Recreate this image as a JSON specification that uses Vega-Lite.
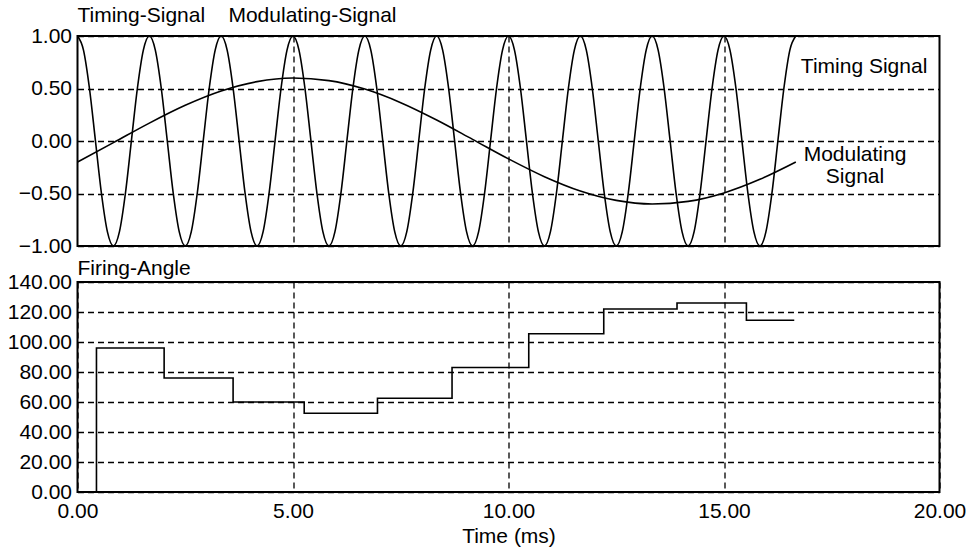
{
  "$schema": "https://vega.github.io/schema/vega-lite/v6.json",
  "background": "white",
  "padding": {"left": 5.5, "top": 4, "right": 5, "bottom": 5},
  "spacing": 0,
  "config": {
    "font": "Liberation Sans",
    "view": {"stroke": "black", "strokeWidth": 2},
    "axis": {
      "labelFont": "Liberation Sans",
      "labelFontSize": 21,
      "labelColor": "black",
      "labelPadding": 6,
      "labelFlush": false,
      "labelOverlap": false,
      "ticks": false,
      "domain": false,
      "grid": true,
      "gridColor": "black",
      "gridOpacity": 1,
      "gridWidth": 1.3,
      "gridDash": [6, 4],
      "titleFont": "Liberation Sans",
      "titleFontSize": 21,
      "titleFontWeight": "normal",
      "titleColor": "black"
    },
    "title": {"font": "Liberation Sans", "fontSize": 21, "fontWeight": "normal", "color": "black", "anchor": "start", "frame": "group"}
  },
  "datasets": {
    "timing": [
      {"t":0,"v":1},{"t":0.1389,"v":0.866},{"t":0.2778,"v":0.5},{"t":0.4167,"v":0},{"t":0.5556,"v":-0.5},{"t":0.6944,"v":-0.866},{"t":0.8333,"v":-1},{"t":0.9722,"v":-0.866},{"t":1.1111,"v":-0.5},{"t":1.25,"v":0},{"t":1.3889,"v":0.5},{"t":1.5278,"v":0.866},
      {"t":1.6667,"v":1},{"t":1.8056,"v":0.866},{"t":1.9444,"v":0.5},{"t":2.0833,"v":0},{"t":2.2222,"v":-0.5},{"t":2.3611,"v":-0.866},{"t":2.5,"v":-1},{"t":2.6389,"v":-0.866},{"t":2.7778,"v":-0.5},{"t":2.9167,"v":0},{"t":3.0556,"v":0.5},{"t":3.1944,"v":0.866},
      {"t":3.3333,"v":1},{"t":3.4722,"v":0.866},{"t":3.6111,"v":0.5},{"t":3.75,"v":0},{"t":3.8889,"v":-0.5},{"t":4.0278,"v":-0.866},{"t":4.1667,"v":-1},{"t":4.3056,"v":-0.866},{"t":4.4444,"v":-0.5},{"t":4.5833,"v":0},{"t":4.7222,"v":0.5},{"t":4.8611,"v":0.866},
      {"t":5,"v":1},{"t":5.1389,"v":0.866},{"t":5.2778,"v":0.5},{"t":5.4167,"v":0},{"t":5.5556,"v":-0.5},{"t":5.6944,"v":-0.866},{"t":5.8333,"v":-1},{"t":5.9722,"v":-0.866},{"t":6.1111,"v":-0.5},{"t":6.25,"v":0},{"t":6.3889,"v":0.5},{"t":6.5278,"v":0.866},
      {"t":6.6667,"v":1},{"t":6.8056,"v":0.866},{"t":6.9444,"v":0.5},{"t":7.0833,"v":0},{"t":7.2222,"v":-0.5},{"t":7.3611,"v":-0.866},{"t":7.5,"v":-1},{"t":7.6389,"v":-0.866},{"t":7.7778,"v":-0.5},{"t":7.9167,"v":0},{"t":8.0556,"v":0.5},{"t":8.1944,"v":0.866},
      {"t":8.3333,"v":1},{"t":8.4722,"v":0.866},{"t":8.6111,"v":0.5},{"t":8.75,"v":0},{"t":8.8889,"v":-0.5},{"t":9.0278,"v":-0.866},{"t":9.1667,"v":-1},{"t":9.3056,"v":-0.866},{"t":9.4444,"v":-0.5},{"t":9.5833,"v":0},{"t":9.7222,"v":0.5},{"t":9.8611,"v":0.866},
      {"t":10,"v":1},{"t":10.1389,"v":0.866},{"t":10.2778,"v":0.5},{"t":10.4167,"v":0},{"t":10.5556,"v":-0.5},{"t":10.6944,"v":-0.866},{"t":10.8333,"v":-1},{"t":10.9722,"v":-0.866},{"t":11.1111,"v":-0.5},{"t":11.25,"v":0},{"t":11.3889,"v":0.5},{"t":11.5278,"v":0.866},
      {"t":11.6667,"v":1},{"t":11.8056,"v":0.866},{"t":11.9444,"v":0.5},{"t":12.0833,"v":0},{"t":12.2222,"v":-0.5},{"t":12.3611,"v":-0.866},{"t":12.5,"v":-1},{"t":12.6389,"v":-0.866},{"t":12.7778,"v":-0.5},{"t":12.9167,"v":0},{"t":13.0556,"v":0.5},{"t":13.1944,"v":0.866},
      {"t":13.3333,"v":1},{"t":13.4722,"v":0.866},{"t":13.6111,"v":0.5},{"t":13.75,"v":0},{"t":13.8889,"v":-0.5},{"t":14.0278,"v":-0.866},{"t":14.1667,"v":-1},{"t":14.3056,"v":-0.866},{"t":14.4444,"v":-0.5},{"t":14.5833,"v":0},{"t":14.7222,"v":0.5},{"t":14.8611,"v":0.866},
      {"t":15,"v":1},{"t":15.1389,"v":0.866},{"t":15.2778,"v":0.5},{"t":15.4167,"v":0},{"t":15.5556,"v":-0.5},{"t":15.6944,"v":-0.866},{"t":15.8333,"v":-1},{"t":15.9722,"v":-0.866},{"t":16.1111,"v":-0.5},{"t":16.25,"v":0},{"t":16.3889,"v":0.5},{"t":16.5278,"v":0.866},
      {"t":16.6667,"v":1}
    ],
    "modulating": [
      {"t":0,"v":-0.2003},{"t":0.8333,"v":-0.0157},{"t":1.6667,"v":0.1704},{"t":2.5,"v":0.3398},{"t":3.3333,"v":0.476},{"t":4.1667,"v":0.5656},{"t":5,"v":0.5998},{"t":5.8333,"v":0.5753},{"t":6.6667,"v":0.4945},{"t":7.5,"v":0.3653},{"t":8.3333,"v":0.2003},{"t":9.1667,"v":0.0157},{"t":10,"v":-0.1704},{"t":10.8333,"v":-0.3398},{"t":11.6667,"v":-0.476},{"t":12.5,"v":-0.5656},{"t":13.3333,"v":-0.5998},{"t":14.1667,"v":-0.5753},{"t":15,"v":-0.4945},{"t":15.8333,"v":-0.3653},{"t":16.6667,"v":-0.2003}
    ],
    "labels": [
      {"t":18.25,"v":0.65,"label":"Timing Signal"},
      {"t":18.04,"v":-0.195,"label":"Modulating"},
      {"t":18.04,"v":-0.4,"label":"Signal"}
    ],
    "firing": [
      {"i":0,"t":0.44,"v":0},{"i":1,"t":0.44,"v":96},{"i":2,"t":2.01,"v":76},{"i":3,"t":3.61,"v":60},{"i":4,"t":5.26,"v":52.5},{"i":5,"t":6.96,"v":62.5},{"i":6,"t":8.69,"v":83},{"i":7,"t":10.47,"v":105.5},{"i":8,"t":12.21,"v":122},{"i":9,"t":13.91,"v":126},{"i":10,"t":15.52,"v":114.5},{"i":11,"t":16.63,"v":114.5}
    ]
  },
  "vconcat": [
    {
      "width": 862,
      "height": 210,
      "title": {"text": "Timing-Signal\u00a0\u00a0\u00a0\u00a0Modulating-Signal", "offset": -1},
      "encoding": {
        "x": {"field": "t", "type": "quantitative", "scale": {"domain": [0, 20], "nice": false},
              "axis": {"values": [5, 10, 15], "labels": false, "title": null}},
        "y": {"field": "v", "type": "quantitative", "scale": {"domain": [-1, 1], "nice": false},
              "axis": {"values": [-1, -0.5, 0, 0.5, 1], "format": ".2f", "title": null}}
      },
      "layer": [
        {"data": {"name": "timing"}, "mark": {"type": "line", "color": "black", "strokeWidth": 1.6, "interpolate": "monotone"}},
        {"data": {"name": "modulating"}, "mark": {"type": "line", "color": "black", "strokeWidth": 1.6, "interpolate": "monotone"}},
        {"data": {"name": "labels"}, "mark": {"type": "text", "align": "center", "baseline": "alphabetic", "font": "Liberation Sans", "fontSize": 21, "color": "black"},
         "encoding": {"text": {"field": "label"}}}
      ]
    },
    {
      "width": 862,
      "height": 210,
      "title": {"text": "Firing-Angle", "offset": -8},
      "data": {"name": "firing"},
      "mark": {"type": "line", "color": "black", "strokeWidth": 1.6, "interpolate": "step-after"},
      "encoding": {
        "x": {"field": "t", "type": "quantitative", "scale": {"domain": [0, 20], "nice": false},
              "axis": {"values": [0, 5, 10, 15, 20], "format": ".2f", "title": "Time (ms)", "labelPadding": 8, "titlePadding": 4}},
        "y": {"field": "v", "type": "quantitative", "scale": {"domain": [0, 140], "nice": false},
              "axis": {"values": [0, 20, 40, 60, 80, 100, 120, 140], "format": ".2f", "title": null}},
        "order": {"field": "i", "type": "quantitative"}
      }
    }
  ]
}
